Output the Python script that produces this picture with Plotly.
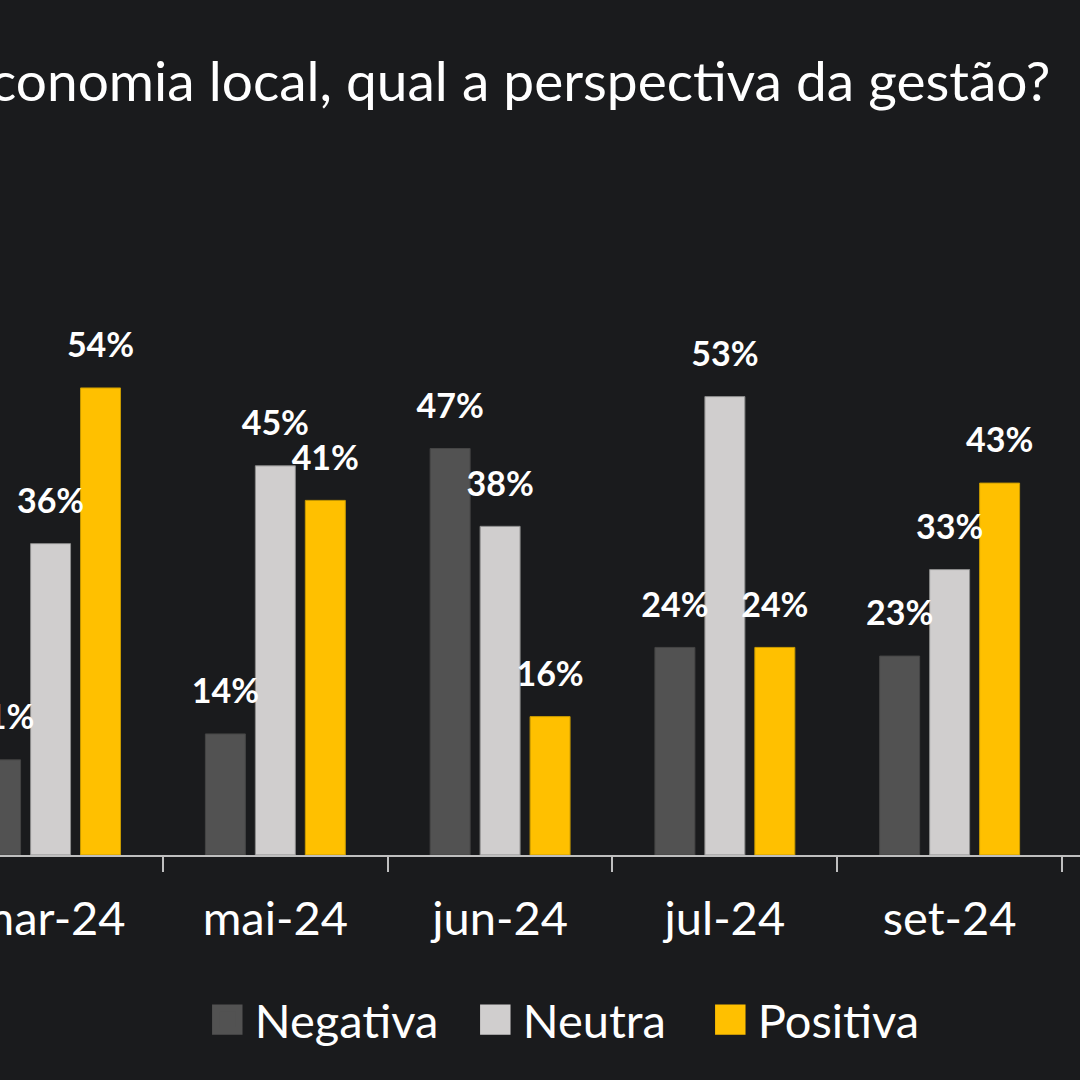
import plotly.graph_objects as go

categories = ["mar-24", "mai-24", "jun-24", "jul-24", "set-24"]
negativa = [11, 14, 47, 24, 23]
neutra = [36, 45, 38, 53, 33]
positiva = [54, 41, 16, 24, 43]
series_names = ["Negativa", "Neutra", "Positiva"]
title_text = "economia local, qual a perspectiva da gestão?"

colors = ["#525252", "#D0CECE", "#FFC000"]
edge = ["#454545", "#8C8C8C", "#C89A00"]
legend_widths = [208, 175, 175]
FONT = "Lato"
BG = "#1A1B1D"

fig = go.Figure()
for name, vals, c, e in zip(series_names, [negativa, neutra, positiva], colors, edge):
    fig.add_trace(go.Bar(
        x=categories, y=vals, name=name, offsetgroup=name,
        marker=dict(color=c, line=dict(color=e, width=1)),
        hoverinfo="skip", showlegend=False,
    ))
for name, vals in zip(series_names, [negativa, neutra, positiva]):
    fig.add_trace(go.Scatter(
        x=categories, y=vals, mode="markers+text", offsetgroup=name,
        text=[f"{v}%" for v in vals], textposition="top center",
        textfont=dict(family=FONT, size=34, color="white", weight="bold"),
        marker=dict(size=34, opacity=0), showlegend=False, hoverinfo="skip",
        cliponaxis=False,
    ))
# legend entries
for name, c, lw in zip(series_names, colors, legend_widths):
    fig.add_trace(go.Scatter(
        x=[None], y=[None], mode="markers", name=name, legendwidth=lw,
        marker=dict(symbol="square", size=16, color=c, line=dict(color=c, width=5)),
        hoverinfo="skip",
    ))

fig.update_layout(
    width=1080, height=1080,
    paper_bgcolor=BG, plot_bgcolor=BG,
    margin=dict(l=0, r=0, t=170, b=225, autoexpand=False),
    barmode="group", bargap=0.333, bargroupgap=0.2,
    scattermode="group", scattergap=0.333,
    font=dict(family=FONT, color="white"),
    showlegend=True,
    legend=dict(orientation="h", x=0.185, xanchor="left", y=-0.241, yanchor="middle",
                font=dict(family=FONT, size=47, color="white"),
                bgcolor="rgba(0,0,0,0)", itemwidth=45, traceorder="normal"),
    xaxis=dict(type="category", range=[-0.225, 4.58], showgrid=False, zeroline=False,
               automargin=False,
               showline=True, linecolor="#BFBFBF", linewidth=2,
               ticks="outside", tickson="boundaries", ticklen=15, tickwidth=2,
               tickcolor="#BFBFBF", ticklabelstandoff=22,
               tickfont=dict(family=FONT, size=47, color="white")),
    yaxis=dict(range=[0, 79.2], visible=False, showgrid=False, zeroline=False,
               automargin=False),
    annotations=[dict(text=title_text, xref="paper", yref="paper", x=0.974, y=1.131,
                      xanchor="right", yanchor="middle", showarrow=False,
                      font=dict(family=FONT, size=55, color="white"))],
)
post = (
    "document.body.style.margin='0';"
    "document.body.style.background='#1A1B1D';"
    "document.body.style.overflow='hidden';"
    "document.querySelectorAll('.legendpoints path.scatterpts').forEach(function(p){"
    "var t=p.getAttribute('transform')||'';p.setAttribute('transform',t+' scale(1.45)');});"
)
fig.write_html("out.html", config={"displayModeBar": False}, post_script=post)
